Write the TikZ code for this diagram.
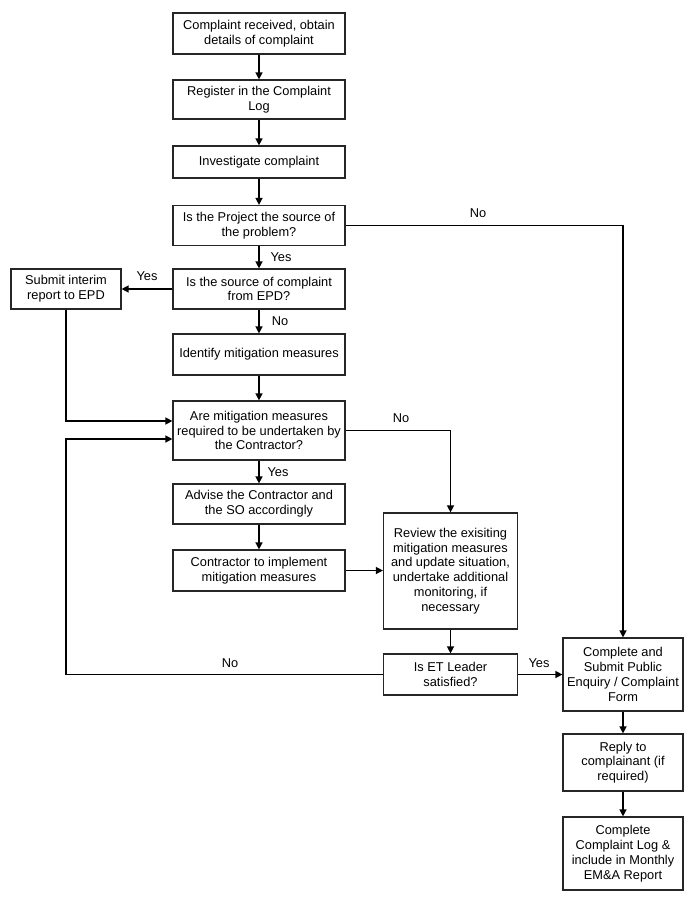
\documentclass[tikz,border=0pt]{standalone}
\usepackage{fontspec}
\setmainfont{Liberation Sans}
\usetikzlibrary{arrows.meta}
\begin{document}
\begin{tikzpicture}[x=1pt,y=-1pt,
  box/.style={draw=black!85, line width=1.2pt, align=center, inner sep=1pt,
    font=\fontsize{12.8}{14.8}\selectfont},
  mainbox/.style={box, minimum width=172pt},
  sidebox/.style={box, minimum width=134pt},
  rightbox/.style={box, minimum width=120pt},
  arr/.style={-{Triangle[length=7pt,width=7pt]}, line width=1.4pt},
  lbl/.style={font=\fontsize{12.8}{14.8}\selectfont, inner sep=0pt}]
\useasboundingbox[fill=white] (0,0) rectangle (692,899);

% main column
\node[mainbox, minimum height=41pt] (b1) at (259,33.5) {Complaint received, obtain\\details of complaint};
\node[mainbox, minimum height=39pt] (b2) at (259,99.5) {Register in the Complaint\\Log};
\node[mainbox, minimum height=32pt] (b3) at (259,162) {Investigate complaint};
\node[mainbox, minimum height=40pt] (b4) at (259,225.5) {Is the Project the source of\\the problem?};
\node[mainbox, minimum height=40pt] (b5) at (259,289) {Is the source of complaint\\from EPD?};
\node[box, minimum width=110pt, minimum height=40pt] (int) at (66,289) {Submit interim\\report to EPD};
\node[mainbox, minimum height=41pt] (b6) at (259,354.5) {Identify mitigation measures};
\node[mainbox, minimum height=59pt] (b7) at (259,430.5) {Are mitigation measures\\required to be undertaken by\\the Contractor?};
\node[mainbox, minimum height=40pt] (b8) at (259,504) {Advise the Contractor and\\the SO accordingly};
\node[mainbox, minimum height=41pt] (b9) at (259,570.5) {Contractor to implement\\mitigation measures};

% middle column
\node[sidebox, minimum height=116pt] (rv) at (450.5,571) {Review the exisiting\\mitigation measures\\and update situation,\\undertake additional\\monitoring, if\\necessary};
\node[sidebox, minimum height=41pt] (et) at (450.5,674.5) {Is ET Leader\\satisfied?};

% right column
\node[rightbox, minimum height=73pt] (c1) at (623,674.5) {Complete and\\Submit Public\\Enquiry / Complaint\\Form};
\node[rightbox, minimum height=57pt] (c2) at (623,762.5) {Reply to\\complainant (if\\required)};
\node[rightbox, minimum height=73pt] (c3) at (623,853.5) {Complete\\Complaint Log \&\\include in Monthly\\EM\&A Report};

% connectors
\draw[arr] (b1) -- (b2);
\draw[arr] (b2) -- (b3);
\draw[arr] (b3) -- (b4);
\draw[arr] (b4) -- (b5);
\draw[arr] (b4.east) -| (c1.north);
\draw[arr] (b5.west) -- (int.east);
\draw[arr] (b5) -- (b6);
\draw[arr] (b6) -- (b7);
\draw[arr] (int.south) |- ([yshift=9.5pt]b7.west);
\coordinate (lp) at (66,439);
\draw[arr] (et.west) -| (lp) -- (lp -| b7.west);
\draw[arr] (b7.east) -| (rv.north);
\draw[arr] (b7) -- (b8);
\draw[arr] (b8) -- (b9);
\draw[arr] (b9.east) -- (b9.east -| rv.west);
\draw[arr] (rv) -- (et);
\draw[arr] (et) -- (c1);
\draw[arr] (c1) -- (c2);
\draw[arr] (c2) -- (c3);

% labels
\node[lbl] (l1) at (478,213) {No};
\node[lbl] (l2) at (281,257) {Yes};
\node[lbl] (l3) at (147,276) {Yes};
\node[lbl] (l4) at (280,321) {No};
\node[lbl] (l5) at (401,418) {No};
\node[lbl] (l6) at (278,472) {Yes};
\node[lbl] (l7) at (230,663) {No};
\node[lbl] (l8) at (539,663) {Yes};
\end{tikzpicture}
\end{document}
